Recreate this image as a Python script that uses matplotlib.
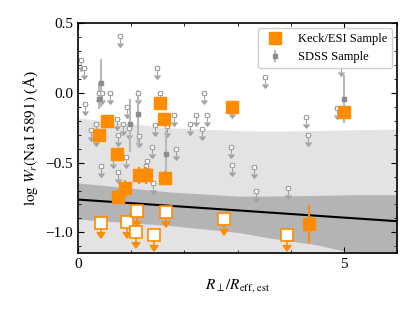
import numpy as np
import matplotlib.pyplot as plt

plt.rcParams['font.family'] = ['Liberation Serif', 'DejaVu Serif']
plt.rcParams['mathtext.fontset'] = 'stix'
plt.rcParams['font.size'] = 11

# Keck/ESI detections
keck_x = np.array([0.39, 0.545, 0.74, 0.75, 0.89, 1.145, 1.28, 1.64, 1.55, 1.62, 2.90, 5.01, 4.34])
keck_y = np.array([-0.30, -0.205, -0.44, -0.745, -0.685, -0.59, -0.59, -0.613, -0.07, -0.185, -0.10, -0.14, -0.942])
keck_err = np.array([0.02, 0.02, 0.03, 0.05, 0.06, 0.06, 0.06, 0.05, 0.02, 0.03, 0.02, 0.03, 0.137])

# Keck/ESI upper limits
keck_lim_x = np.array([0.43, 0.92, 1.11, 1.09, 1.43, 1.66, 2.75, 3.93])
keck_lim_y = np.array([-0.93, -0.925, -0.85, -1.0, -1.017, -0.852, -0.905, -1.02])

# SDSS upper limits
sdss_lim_x = np.array([0.78, 0.05, 0.11, 1.48, 0.40, 0.46, 0.60, 1.13, 1.55, 2.37, 3.52, 4.94,
                       0.14, 0.92, 1.80, 2.21, 2.42, 4.87, 4.28, 0.74, 0.85, 0.95, 1.44, 1.68,
                       2.10, 2.33, 0.25, 0.34, 0.75, 0.34, 1.145, 4.32, 1.40, 1.84, 2.88, 0.65,
                       0.91, 0.44, 0.75, 1.30, 1.27, 2.90, 3.30, 1.41, 3.34, 3.94, 2.90])
sdss_lim_y = np.array([0.41, 0.235, 0.18, 0.175, 0.0, 0.0, 0.0, 0.0, 0.0, 0.0, 0.11, 0.20,
                       -0.08, -0.10, -0.16, -0.16, -0.16, -0.11, -0.17, -0.19, -0.225, -0.255, -0.23, -0.24,
                       -0.225, -0.26, -0.265, -0.225, -0.30, -0.30, -0.31, -0.30, -0.39, -0.40, -0.39, -0.46,
                       -0.46, -0.525, -0.565, -0.49, -0.525, -0.52, -0.535, -0.645, -0.705, -0.685, -0.10])

# SDSS detections
sdss_x = np.array([0.425, 0.39, 0.98, 1.12, 1.66, 5.01])
sdss_y = np.array([0.07, -0.045, -0.225, -0.155, -0.44, -0.045])
sdss_err_lo = np.array([0.17, 0.07, 0.20, 0.235, 0.16, 0.17])
sdss_err_hi = np.array([0.17, 0.12, 0.18, 0.175, 0.17, 0.17])

# fit line and bands
fit_x = np.array([0, 6])
fit_y = np.array([-0.765, -0.92])
band_x = np.array([0, 1.7, 3.0, 3.6, 4.5, 5.2, 6.0])
light_top = np.array([-0.18, -0.25, -0.27, -0.275, -0.27, -0.265, -0.26])
dark_top = np.array([-0.645, -0.71, -0.74, -0.74, -0.735, -0.73, -0.73])
dark_bot = np.array([-0.905, -0.95, -1.0, -1.04, -1.09, -1.15, -1.2])

orange = '#ff8c00'
grey = '#a3a3a3'

fig = plt.figure(figsize=(4.15, 3.11), dpi=100)
ax = fig.add_axes([0.188, 0.1855, 0.769, 0.7405])

ax.fill_between(band_x, -2, light_top, color='#e3e3e3', lw=0, zorder=0)
ax.fill_between(band_x, dark_bot, dark_top, color='#b4b4b4', lw=0, zorder=0)
ax.plot(fit_x, fit_y, color='k', lw=1.5, zorder=1)

# SDSS
ax.errorbar(sdss_lim_x, sdss_lim_y, yerr=0.05, uplims=True, fmt='s', ms=3.5, color=grey,
            mfc='white', mec=grey, mew=0.8, ecolor=grey, elinewidth=0.8, capsize=2, zorder=2)
ax.errorbar(sdss_x, sdss_y, yerr=[sdss_err_lo, sdss_err_hi], fmt='s', ms=3.5, color='#8c8c8c',
            ecolor='#b8b8b8', elinewidth=1.5, zorder=2)

# Keck
ax.errorbar(keck_x, keck_y, yerr=keck_err, fmt='s', ms=9, color=orange, ecolor=orange,
            elinewidth=1.5, zorder=3)
ax.errorbar(keck_lim_x, keck_lim_y, yerr=0.07, uplims=True, fmt='s', ms=8, color=orange,
            mfc='white', mec=orange, mew=1.2, ecolor=orange, elinewidth=1.2, capsize=3, zorder=3)

# legend handles
h1 = ax.errorbar([], [], fmt='s', ms=9, color=orange)
h2 = ax.errorbar([], [], yerr=[], fmt='s', ms=3.5, color='#8c8c8c', ecolor='#b8b8b8', elinewidth=1.5)
ax.legend([h1, h2], ['Keck/ESI Sample', 'SDSS Sample'], loc='upper right', fontsize=9,
          framealpha=1, edgecolor='#d0d0d0', borderaxespad=0.4)

ax.set_xlim(0, 6)
ax.set_ylim(-1.15, 0.5)
ax.set_xticks([0, 5])
ax.set_xticks([1, 2, 3, 4, 6], minor=True)
ax.set_yticks([-1.0, -0.5, 0.0, 0.5])
ax.set_yticks(np.arange(-1.1, 0.5, 0.1), minor=True)
ax.tick_params(which='both', direction='in', top=True, right=True)
ax.tick_params(which='major', length=4)
ax.tick_params(which='minor', length=2.5)
for s in ax.spines.values():
    s.set_linewidth(1.2)

ax.set_xlabel(r'$R_\perp/R_{\mathrm{eff,\,est}}$')
ax.set_ylabel(r'$\log\,W_r(\mathrm{Na\,I}\;5891)$ (Å)')

fig.savefig('out.png', dpi=100)
